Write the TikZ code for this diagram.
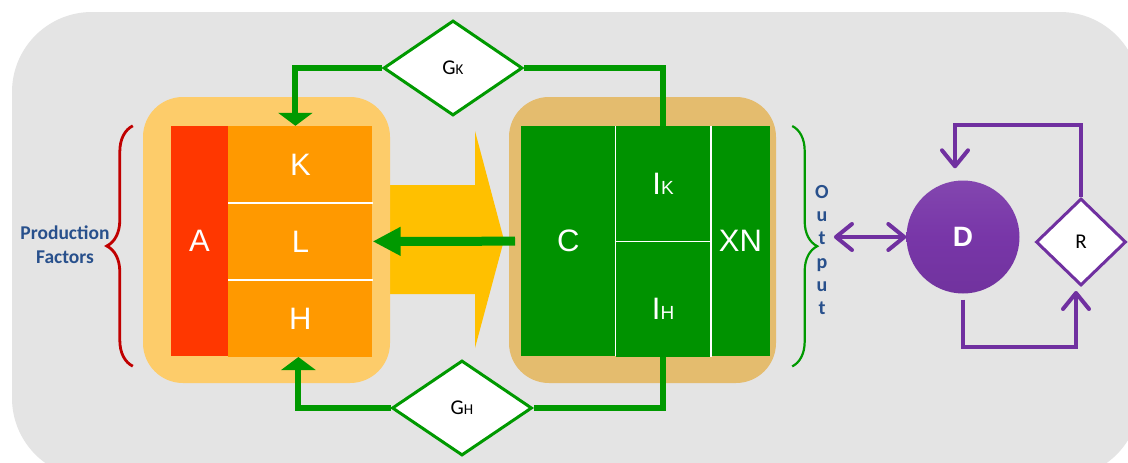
\documentclass[tikz,border=0pt]{standalone}
\usepackage{fontspec}
\setmainfont{Liberation Sans}
\newfontfamily\labelfont{Carlito}
\usetikzlibrary{positioning,calc,shapes.geometric,arrows.meta,decorations.pathreplacing}

\definecolor{bggray}{RGB}{228,228,228}
\definecolor{lorange}{RGB}{253,204,106}
\definecolor{techred}{RGB}{255,55,0}
\definecolor{factororange}{RGB}{255,153,0}
\definecolor{flowyellow}{RGB}{255,192,0}
\definecolor{outtan}{RGB}{228,188,110}
\definecolor{blockgreen}{RGB}{0,146,0}
\definecolor{linegreen}{RGB}{0,153,0}
\definecolor{lpurple}{RGB}{112,48,160}
\definecolor{dpurple}{RGB}{120,54,168}
\definecolor{bracered}{RGB}{192,0,0}
\definecolor{pfblue}{RGB}{40,80,140}

\begin{document}
\begin{tikzpicture}[x=1pt,y=-1pt]
    \tikzset{cell/.style={inner sep=0pt, text=white, font=\fontsize{31}{31}\selectfont},
      factor/.style={cell, fill=factororange, minimum width=144pt, minimum height=76.67pt},
      gate/.style={diamond, draw=linegreen, line width=3pt, fill=white, inner sep=0pt,
        font=\labelfont\fontsize{21}{21}\selectfont},
      gline/.style={draw=linegreen, line width=6pt},
      pline/.style={draw=lpurple, line width=4pt},
      pbarb/.tip={Straight Barb[length=16pt,width=26pt,round]},
      divider/.style={draw=white, line width=1.5pt},
      panel/.style={inner sep=0pt, rounded corners=40pt, minimum height=286pt}
    }
    \useasboundingbox (0,0) rectangle (1128,463);
    \fill[white] (0,0) rectangle (1128,463);
    \fill[bggray, rounded corners=80pt] (12,12) rectangle (1140,478);

    \fill[flowyellow] (380,185) -- (475,185) -- (475,131) -- (504,240) -- (475,348) -- (475,294) -- (380,294) -- cycle;

    \node[panel, fill=lorange, minimum width=247pt] (Prod) at (266.5,240) {};
    \node[panel, fill=outtan, minimum width=267pt] (Outp) at (642.5,240) {};

    \node[cell, fill=techred, minimum width=57pt, minimum height=230pt] (A) at (199.5,241) {A};
    \node[factor, anchor=north west] (K) at (A.north east) {K};
    \node[factor, below=0pt of K] (L) {L};
    \node[factor, below=0pt of L] (H) {H};
    \draw[divider] (K.south west) -- (K.south east);
    \draw[divider] (L.south west) -- (L.south east);

    \node[cell, fill=blockgreen, minimum width=94pt, minimum height=230pt, anchor=north west] (C) at (521,126) {C};
    \node[cell, fill=blockgreen, minimum width=95pt, minimum height=115pt, anchor=north west] (IK) at (C.north east) {I{\fontsize{19}{19}\selectfont K}};
    \node[cell, fill=blockgreen, minimum width=95pt, minimum height=115pt, below=0pt of IK] (IH) {};
    \node[text=white, font=\fontsize{31}{31}\selectfont] (IHtext) at ([yshift=-10pt]IH.center) {I{\fontsize{19}{19}\selectfont H}};
    \node[cell, fill=blockgreen, minimum width=59pt, minimum height=230pt, anchor=north west] (XN) at (IK.north east) {XN};
    \draw[divider] (C.north east) -- (C.south east);
    \draw[divider] (IK.north east) -- (IH.south east);
    \draw[divider] (IK.south west) -- (IK.south east);

    \node[gate, minimum width=139pt, minimum height=95pt] (GK) at (453,68) {G{\fontsize{15}{15}\selectfont K}};
    \node[gate, minimum width=140pt, minimum height=95pt] (GH) at (462,408) {G{\fontsize{15}{15}\selectfont H}};

    \draw[gline] (IK.north) |- (GK.east);
    \draw[gline, -{Triangle[length=13pt,width=34pt]}] (GK.west) -| ([xshift=-5pt]K.north);
    \draw[gline] (IH.south) |- (GH.east);
    \draw[gline, -{Triangle[length=13pt,width=34pt]}] (GH.west) -| ([xshift=-2pt]H.south);
    \draw[gline, line width=9pt, -{Triangle[length=28pt,width=27pt]}] ([xshift=-6pt]C.west) -- (L.east);

    \draw[bracered, line width=2.8pt, decorate, decoration={brace, amplitude=26pt}]
      ([shift={(-38pt,-10pt)}]A.south west) -- ([xshift=-38pt]A.north west);
    \draw[linegreen, line width=2.2pt, decorate, decoration={brace, amplitude=25pt}]
      ([xshift=22pt]XN.north east) -- ([shift={(22pt,-10pt)}]XN.south east);

    \node[align=center, text=pfblue, font=\labelfont\bfseries\fontsize{19.5}{24}\selectfont] (PF) at (65,245) {Production\\Factors};
    \node[align=center, text=pfblue, inner sep=0pt, font=\labelfont\bfseries\fontsize{20}{23.2}\selectfont] (Out) at (822,250) {O\\u\\t\\p\\u\\t};

    \node[circle, top color=dpurple!92!white, bottom color=dpurple!94!black, middle color=dpurple, minimum size=113pt, text=white, font=\bfseries\fontsize{28}{28}\selectfont] (D) at (963,237) {D};
    \node[gate, draw=lpurple, minimum width=90pt, minimum height=87pt] (R) at (1081,242) {R};

    \coordinate (OutR) at ([xshift=5pt]Out.east);
    \coordinate (Dtop) at ([xshift=-8pt,yshift=12pt]D.north);
    \coordinate (Dbot) at ([yshift=-6pt]D.south);
    \coordinate (Rbot) at ([xshift=-5pt,yshift=-4pt]R.south);
    \draw[pline, line cap=round, pbarb-pbarb] (OutR |- D.west) -- (D.west);
    \draw[pline, -pbarb] (R.north) -- ++(0,-72) -| (Dtop);
    \draw[pline, -pbarb] (Dbot) -- ++(0,47) -| (Rbot);
\end{tikzpicture}
\end{document}
